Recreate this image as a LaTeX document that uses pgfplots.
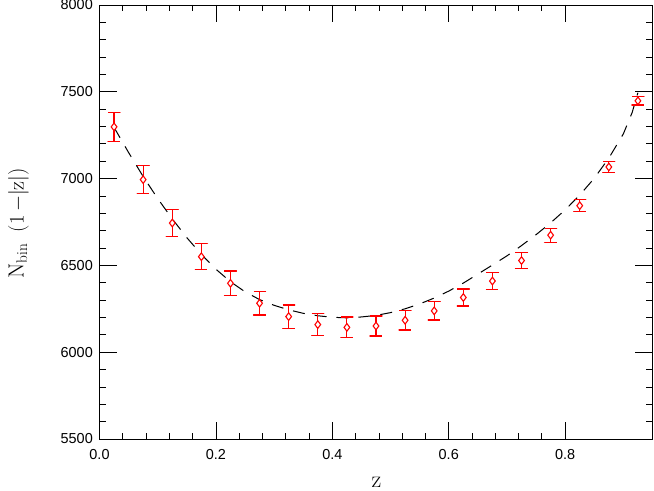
\documentclass[border=0pt]{standalone}
\usepackage{pgfplots}
\pgfplotsset{compat=1.18}
\usepackage{pgfplotstable}
\usepackage{fontspec}
\newfontfamily\ticksf{Liberation Sans}

\pgfplotstableread{
z y
0.025 7298
0.075 6994
0.125 6744
0.175 6550
0.225 6397
0.275 6282
0.325 6205
0.375 6159
0.425 6143
0.475 6151
0.525 6184
0.575 6238
0.625 6315
0.675 6410
0.725 6528
0.775 6674
0.825 6844
0.875 7067
0.925 7448
}\datatable

\pgfplotstableread{
z y
0.025 7295
0.05 7150
0.075 7012
0.1 6885
0.125 6768
0.15 6660
0.175 6563
0.2 6478
0.225 6406
0.25 6348
0.275 6303
0.3 6270
0.325 6244
0.35 6224
0.375 6210
0.4 6201
0.425 6198
0.45 6203
0.475 6212
0.5 6228
0.525 6250
0.55 6278
0.575 6312
0.6 6352
0.625 6398
0.65 6450
0.675 6502
0.7 6555
0.725 6614
0.75 6677
0.775 6745
0.8 6820
0.825 6905
0.85 7002
0.875 7118
0.9 7258
0.915 7380
0.925 7495
}\curvetable

\begin{document}
\begin{tikzpicture}
\path[use as bounding box] (-99.5bp,-52bp) rectangle (554.5bp,439bp);
\begin{axis}[
  at={(0,0)}, anchor=south west,
  scale only axis, width=553bp, height=434bp,
  xmin=0, xmax=0.95, ymin=5500, ymax=8000,
  xtick={0,0.2,0.4,0.6,0.8},
  xticklabels={0.0,0.2,0.4,0.6,0.8},
  ytick={5500,6000,6500,7000,7500,8000},
  yticklabels={5500,6000,6500,7000,7500,8000},
  minor x tick num=4, minor y tick num=4,
  tick align=inside, tick pos=both,
  major tick length=17bp, minor tick length=6bp,
  axis line style={line width=0.9bp},
  every tick/.style={line width=0.8bp},
  xticklabel style={font=\ticksf\fontsize{14.5}{16}\selectfont, inner sep=0pt, anchor=north, yshift=-10bp},
  yticklabel style={font=\ticksf\fontsize{14.5}{16}\selectfont, inner sep=0pt, anchor=east, xshift=-6.5bp},
  clip=false,
]
\addplot[draw=black, line width=1bp, dash pattern=on 12bp off 10bp] table[x=z, y=y] {\curvetable};
% error bars: cap top, stem, cap bottom, per point
\addplot[draw=red, line width=1.2bp, line join=round, no marks, unbounded coords=jump] coordinates {
(0.0146,7382) (0.0354,7382) (0.025,7382) (0.025,7214) (0.0146,7214) (0.0354,7214) (0.025,nan)
(0.0646,7075) (0.0854,7075) (0.075,7075) (0.075,6913) (0.0646,6913) (0.0854,6913) (0.075,nan)
(0.1146,6823) (0.1354,6823) (0.125,6823) (0.125,6665) (0.1146,6665) (0.1354,6665) (0.125,nan)
(0.1646,6625) (0.1854,6625) (0.175,6625) (0.175,6475) (0.1646,6475) (0.1854,6475) (0.175,nan)
(0.2146,6468) (0.2354,6468) (0.225,6468) (0.225,6326) (0.2146,6326) (0.2354,6326) (0.225,nan)
(0.2646,6350) (0.2854,6350) (0.275,6350) (0.275,6214) (0.2646,6214) (0.2854,6214) (0.275,nan)
(0.3146,6272) (0.3354,6272) (0.325,6272) (0.325,6138) (0.3146,6138) (0.3354,6138) (0.325,nan)
(0.3646,6222) (0.3854,6222) (0.375,6222) (0.375,6096) (0.3646,6096) (0.3854,6096) (0.375,nan)
(0.4146,6203) (0.4354,6203) (0.425,6203) (0.425,6083) (0.4146,6083) (0.4354,6083) (0.425,nan)
(0.4646,6209) (0.4854,6209) (0.475,6209) (0.475,6093) (0.4646,6093) (0.4854,6093) (0.475,nan)
(0.5146,6240) (0.5354,6240) (0.525,6240) (0.525,6128) (0.5146,6128) (0.5354,6128) (0.525,nan)
(0.5646,6290) (0.5854,6290) (0.575,6290) (0.575,6186) (0.5646,6186) (0.5854,6186) (0.575,nan)
(0.6146,6364) (0.6354,6364) (0.625,6364) (0.625,6266) (0.6146,6266) (0.6354,6266) (0.625,nan)
(0.6646,6457) (0.6854,6457) (0.675,6457) (0.675,6363) (0.6646,6363) (0.6854,6363) (0.675,nan)
(0.7146,6572) (0.7354,6572) (0.725,6572) (0.725,6484) (0.7146,6484) (0.7354,6484) (0.725,nan)
(0.7646,6714) (0.7854,6714) (0.775,6714) (0.775,6634) (0.7646,6634) (0.7854,6634) (0.775,nan)
(0.8146,6878) (0.8354,6878) (0.825,6878) (0.825,6810) (0.8146,6810) (0.8354,6810) (0.825,nan)
(0.8646,7099) (0.8854,7099) (0.875,7099) (0.875,7035) (0.8646,7035) (0.8854,7035) (0.875,nan)
(0.9146,7472) (0.9354,7472) (0.925,7472) (0.925,7424) (0.9146,7424) (0.9354,7424)
};
\addplot[draw=red, only marks, mark=diamond*, mark size=3.8bp,
  mark options={draw=red, fill=white, line width=1.1bp}]
  table[x=z, y=y] {\datatable};
\end{axis}
\node[anchor=base, inner sep=0pt, font=\fontsize{24}{28}\selectfont] at (277bp,-48bp) {z};
\node[rotate=90, anchor=south, inner sep=0pt, font=\fontsize{22}{26}\selectfont] at (-70.5bp,215.5bp) {$\mathrm{N_{bin}}\;\;(1\,{-}|\mathrm{z}|)$};
\end{tikzpicture}
\end{document}
